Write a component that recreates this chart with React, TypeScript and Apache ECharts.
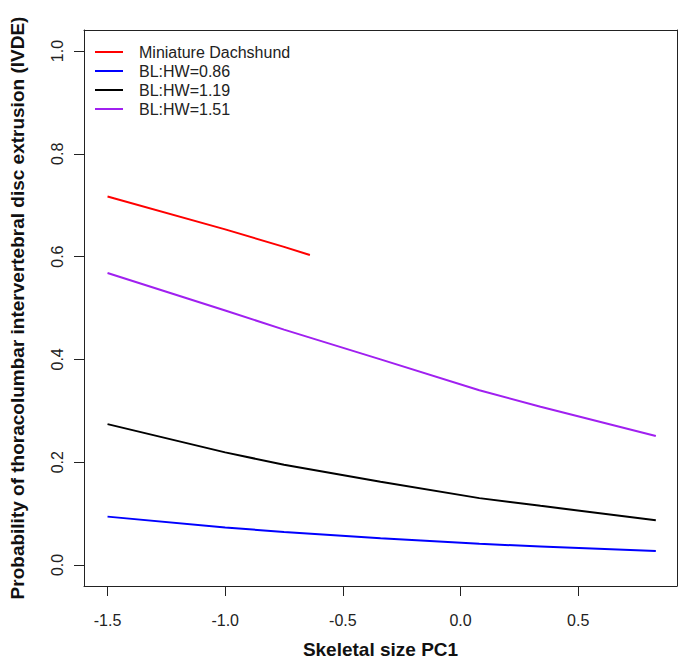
import React, { useEffect, useRef } from "react";
import * as echarts from "echarts";

const xValues = [-1.5, -1.0, -0.75, -0.34, 0.08, 0.34, 0.83];
const purpleValues = [0.568, 0.495, 0.458, 0.4, 0.34, 0.308, 0.251];
const blackValues = [0.274, 0.219, 0.195, 0.162, 0.13, 0.115, 0.087];
const blueValues = [0.094, 0.073, 0.064, 0.052, 0.041, 0.036, 0.027];
const redX = [-1.5, -1.0, -0.75, -0.64];
const redValues = [0.717, 0.653, 0.619, 0.603];

const xTicks = [-1.5, -1.0, -0.5, 0.0, 0.5];
const yTicks = [0.0, 0.2, 0.4, 0.6, 0.8, 1.0];

const seriesNames = ["Miniature Dachshund", "BL:HW=0.86", "BL:HW=1.19", "BL:HW=1.51"];
const seriesColors = ["#FF0000", "#0000FF", "#000000", "#A020F0"];

const FONT = "Liberation Sans, Arial, sans-serif";
const X_MIN = -1.6;
const X_MAX = 0.92;
const Y_MIN = -0.041;
const Y_MAX = 1.041;

function pairs(xs: number[], ys: number[]) {
  return xs.map((x, i) => [x, ys[i]]);
}

export default function App() {
  const ref = useRef<HTMLDivElement>(null);
  useEffect(() => {
    if (!ref.current) return;
    const chart = echarts.init(ref.current, null, { renderer: "svg" });
    const seriesData = [
      pairs(redX, redValues),
      pairs(xValues, blueValues),
      pairs(xValues, blackValues),
      pairs(xValues, purpleValues),
    ];
    const boxLine = { show: true, onZero: false, lineStyle: { color: "#222", width: 1 } };
    chart.setOption({
      animation: false,
      backgroundColor: "#ffffff",
      grid: { left: 79, top: 30, right: 6, bottom: 82 },
      legend: {
        data: seriesNames,
        orient: "vertical",
        left: 95,
        top: 44,
        padding: 0,
        icon: "rect",
        itemWidth: 28,
        itemHeight: 2,
        itemGap: 3,
        textStyle: {
          fontSize: 16,
          fontFamily: FONT,
          color: "#222",
          lineHeight: 16,
          padding: [0, 0, 0, 11],
        },
      },
      xAxis: [
        {
          type: "value",
          position: "bottom",
          min: X_MIN,
          max: X_MAX,
          name: "Skeletal size PC1",
          nameLocation: "middle",
          nameGap: 54,
          nameTextStyle: { fontSize: 19, fontWeight: "bold", fontFamily: FONT, color: "#111" },
          axisLine: boxLine,
          splitLine: { show: false },
          axisTick: {
            show: true,
            length: 10,
            customValues: xTicks,
            lineStyle: { color: "#222" },
          },
          axisLabel: {
            customValues: xTicks,
            margin: 26,
            fontSize: 16,
            fontFamily: FONT,
            color: "#222",
            formatter: (v: number) => v.toFixed(1),
          },
        },
        {
          type: "value",
          position: "top",
          min: X_MIN,
          max: X_MAX,
          axisLine: boxLine,
          axisTick: { show: false },
          axisLabel: { show: false },
          splitLine: { show: false },
        },
      ],
      yAxis: [
        {
          type: "value",
          position: "left",
          min: Y_MIN,
          max: Y_MAX,
          name: "Probability of thoracolumbar intervertebral disc extrusion (IVDE)",
          nameLocation: "middle",
          nameGap: 57,
          nameRotate: 90,
          nameTextStyle: { fontSize: 19, fontWeight: "bold", fontFamily: FONT, color: "#111" },
          axisLine: boxLine,
          splitLine: { show: false },
          axisTick: {
            show: true,
            length: 10,
            customValues: yTicks,
            lineStyle: { color: "#222" },
          },
          axisLabel: {
            customValues: yTicks,
            rotate: 90,
            margin: 19,
            fontSize: 16,
            fontFamily: FONT,
            color: "#222",
            formatter: (v: number) => v.toFixed(1),
          },
        },
        {
          type: "value",
          position: "right",
          min: Y_MIN,
          max: Y_MAX,
          axisLine: boxLine,
          axisTick: { show: false },
          axisLabel: { show: false },
          splitLine: { show: false },
        },
      ],
      series: seriesNames.map((name, i) => ({
        name,
        type: "line",
        xAxisIndex: 0,
        yAxisIndex: 0,
        data: seriesData[i],
        smooth: false,
        showSymbol: false,
        symbol: "none",
        color: seriesColors[i],
        lineStyle: { color: seriesColors[i], width: 2 },
      })),
    });
    return () => chart.dispose();
  }, []);
  return (
    <div
      ref={ref}
      style={{ position: "absolute", left: 0, top: 0, width: 683, height: 668 }}
    />
  );
}
